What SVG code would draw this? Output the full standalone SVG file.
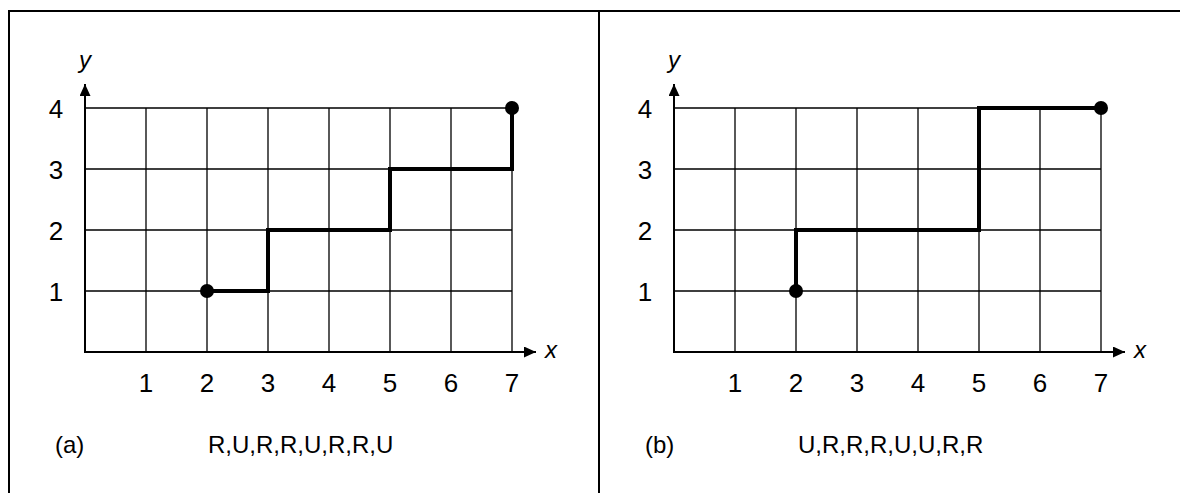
<svg xmlns="http://www.w3.org/2000/svg" width="1180" height="493" viewBox="0 0 1180 493">
<defs>
<style>
.frame{stroke:#000;stroke-width:2;fill:none}
.grid{stroke:#000;stroke-width:1.3;fill:none}
.axis{stroke:#000;stroke-width:2;fill:none}
.path{stroke:#000;stroke-width:4;fill:none;stroke-linejoin:miter;stroke-linecap:square}
.dot{fill:#000}
.num{font-family:"Liberation Sans",Arial,sans-serif;font-size:26px;fill:#000}
.lbl{font-family:"Liberation Sans",Arial,sans-serif;font-size:24px;fill:#000}
.var{font-family:"Liberation Sans",Arial,sans-serif;font-size:24px;font-style:italic;fill:#000}
</style>
<marker id="ah" viewBox="0 0 12 11" refX="12" refY="5.5" markerWidth="12" markerHeight="11" markerUnits="userSpaceOnUse" orient="auto">
<path d="M0,0 L12,5.5 L0,11 Z" fill="#000"/>
</marker>
<g id="gridlines">
<path class="grid" d="M146,108V352M207,108V352M268,108V352M329,108V352M390,108V352M451,108V352M512,108V352M85,108H512M85,169H512M85,230H512M85,291H512"/>
</g>
</defs>

<g id="frame">
<line class="frame" x1="8" y1="11" x2="1180" y2="11"/>
<line class="frame" x1="9" y1="11" x2="9" y2="493"/>
<line class="frame" x1="599" y1="11" x2="599" y2="493"/>
</g>

<g id="panel-a">
<use href="#gridlines"/>
<line class="axis" x1="85" y1="353" x2="85" y2="84" marker-end="url(#ah)"/>
<line class="axis" x1="84" y1="352" x2="536" y2="352" marker-end="url(#ah)"/>
<text class="var" x="79" y="68">y</text>
<text class="var" x="545" y="358">x</text>
<g class="num" text-anchor="middle">
<text x="56" y="118">4</text>
<text x="56" y="179">3</text>
<text x="56" y="240">2</text>
<text x="56" y="301">1</text>
<text x="146" y="392">1</text>
<text x="207" y="392">2</text>
<text x="268" y="392">3</text>
<text x="329" y="392">4</text>
<text x="390" y="392">5</text>
<text x="451" y="392">6</text>
<text x="512" y="392">7</text>
</g>
<text class="lbl" x="55" y="453">(a)</text>
<text class="lbl" x="208" y="453">R,U,R,R,U,R,R,U</text>
</g>

<g id="panel-b">
<use href="#gridlines" transform="translate(589,0)"/>
<line class="axis" x1="674" y1="353" x2="674" y2="84" marker-end="url(#ah)"/>
<line class="axis" x1="673" y1="352" x2="1125" y2="352" marker-end="url(#ah)"/>
<text class="var" x="668" y="68">y</text>
<text class="var" x="1134" y="358">x</text>
<g class="num" text-anchor="middle">
<text x="645" y="118">4</text>
<text x="645" y="179">3</text>
<text x="645" y="240">2</text>
<text x="645" y="301">1</text>
<text x="735" y="392">1</text>
<text x="796" y="392">2</text>
<text x="857" y="392">3</text>
<text x="918" y="392">4</text>
<text x="979" y="392">5</text>
<text x="1040" y="392">6</text>
<text x="1101" y="392">7</text>
</g>
<text class="lbl" x="645" y="453">(b)</text>
<text class="lbl" x="798" y="453">U,R,R,R,U,U,R,R</text>
</g>

<g id="connectors">
<path id="path-a" class="path" d="M207,291H268V230H390V169H512V108"/>
<path id="path-b" class="path" d="M796,291V230H979V108H1101"/>
</g>

<g id="points">
<circle id="start-a" class="dot" cx="207" cy="291" r="7"/>
<circle id="end-a" class="dot" cx="512" cy="108" r="7"/>
<circle id="start-b" class="dot" cx="796" cy="291" r="7"/>
<circle id="end-b" class="dot" cx="1101" cy="108" r="7"/>
</g>
</svg>
